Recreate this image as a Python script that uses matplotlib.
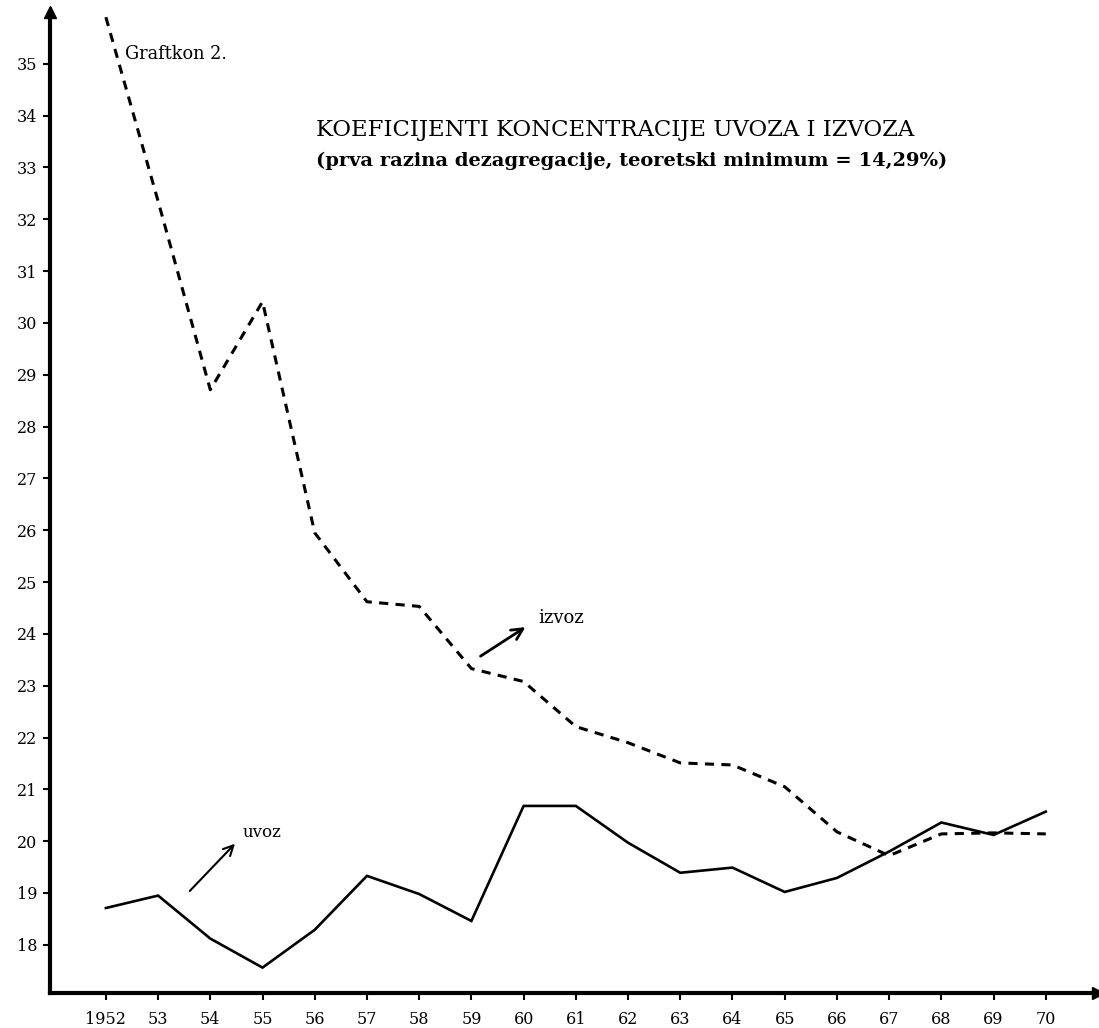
import matplotlib
matplotlib.use("Agg")
import matplotlib.pyplot as plt

# ---- data ----
years = list(range(1952, 1971))
year_labels = ["1952", "53", "54", "55", "56", "57", "58", "59", "60", "61",
               "62", "63", "64", "65", "66", "67", "68", "69", "70"]
uvoz = [18.71, 18.95, 18.12, 17.56, 18.29, 19.33, 18.98, 18.46, 20.68, 20.68,
        19.97, 19.39, 19.49, 19.02, 19.29, 19.80, 20.36, 20.12, 20.57]
izvoz = [35.9, 32.35, 28.71, 30.41, 25.95, 24.62, 24.53, 23.33, 23.08, 22.21,
         21.90, 21.51, 21.47, 21.05, 20.18, 19.72, 20.14, 20.16, 20.14]
y_ticks = list(range(18, 36))

title = "KOEFICIJENTI KONCENTRACIJE UVOZA I IZVOZA"
subtitle = "(prva razina dezagregacije, teoretski minimum = 14,29%)"
chart_no = "Graftkon 2."

# ---- figure ----
W, H = 1099, 1028
fig = plt.figure(figsize=(W / 100, H / 100), dpi=100)
left_px, right_px, top_px, bottom_px = 50, 1098, 12, 993
ax = fig.add_axes([left_px / W, 1 - bottom_px / H,
                   (right_px - left_px) / W, (bottom_px - top_px) / H])
ax.set_xlim(1950.93, 1971.0)
ax.set_ylim(17.07, 36.0)

for s in ["top", "right"]:
    ax.spines[s].set_visible(False)
for s in ["left", "bottom"]:
    ax.spines[s].set_linewidth(3)
    ax.spines[s].set_color("black")

# arrow heads on axes
ax.plot(1, 0, marker=">", color="black", markersize=9,
        transform=ax.transAxes, clip_on=False)
ax.plot(0, 1, marker="^", color="black", markersize=8,
        transform=ax.transAxes, clip_on=False)

# lines
ax.plot(years, uvoz, color="black", lw=1.9, solid_joinstyle="miter")
ax.plot(years, izvoz, color="black", lw=2.2, linestyle=(0, (3.0, 2.4)))

# ticks
tick_font = dict(family="DejaVu Serif", size=11.5)
ax.set_xticks(years)
ax.set_xticklabels(year_labels, **tick_font)
ax.set_yticks(y_ticks)
ax.set_yticklabels([str(v) for v in y_ticks], **tick_font)
ax.tick_params(axis="both", direction="out", length=5, width=1.5,
               colors="black")
ax.tick_params(axis="x", pad=8)
ax.tick_params(axis="y", pad=4)

# texts
ax.text(1952.36, 35.18, chart_no, family="DejaVu Serif", fontsize=12.8,
        va="center", ha="left")
ax.text(1956.02, 33.73, title, family="DejaVu Serif", fontsize=16.4,
        va="center", ha="left")
ax.text(1956.02, 33.12, subtitle, family="DejaVu Serif", fontsize=14,
        fontweight="bold", va="center", ha="left")

# annotations
ax.annotate("", xy=(1960.08, 24.16), xytext=(1959.13, 23.54),
            arrowprops=dict(arrowstyle="->", color="black", lw=2,
                            mutation_scale=20))
ax.text(1960.28, 24.31, "izvoz", family="DejaVu Serif", fontsize=13,
        va="center", ha="left")
ax.annotate("", xy=(1954.51, 19.99), xytext=(1953.57, 19.00),
            arrowprops=dict(arrowstyle="->", color="black", lw=1.5,
                            mutation_scale=18))
ax.text(1954.62, 20.16, "uvoz", family="DejaVu Serif", fontsize=12,
        va="center", ha="left")

fig.savefig("out.png", dpi=100)
